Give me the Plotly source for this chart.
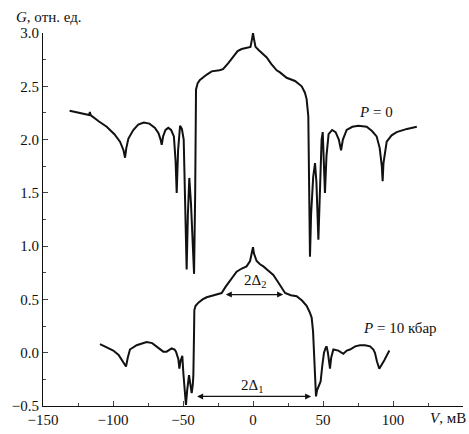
import plotly.graph_objects as go

# P = 0 curve
V0 = [-131, -124, -117, -116.5, -116, -110, -104.5, -99, -95, -92.5, -91.4, -90.5, -89, -85.5, -82, -78, -74,
      -70, -67.5, -66, -65.2, -64.2, -62.5, -60.5, -58.5, -56.5, -55.3, -54.5, -53.5, -52.1, -50.8, -49.5,
      -48.5, -47.4, -46.5, -45.5, -44.3, -43, -42.1, -41.3, -41, -40.7, -39.5, -37.9, -33, -29.5, -24, -21.4,
      -17.5, -14.3, -11, -8.1, -4, -1.8, -0.6, 0, 0.6, 1.8, 4, 7, 9.8, 13, 16.9, 19.3, 24, 30, 34.8, 37.1,
      38.3, 39.5, 40.0, 40.4, 40.7, 41.5, 43, 44.3, 45.3, 46.7, 47.8, 49.0, 49.8, 50.6, 51.4, 52.5, 54, 56.5,
      59, 61.3, 62.9, 64.2, 66.9, 71, 75.2, 81.2, 85, 88.3, 90.5, 92, 92.6, 93.2, 94.5, 95.5, 99, 102.6, 110, 117]
G0 = [2.27, 2.25, 2.23, 2.26, 2.23, 2.17, 2.12, 2.05, 1.98, 1.90, 1.83, 1.92, 2.01, 2.09, 2.14, 2.16, 2.15,
      2.11, 2.06, 2.00, 1.95, 2.03, 2.09, 2.11, 2.09, 2.03, 1.80, 1.50, 1.90, 2.13, 2.10, 2.00,
      1.50, 0.78, 1.30, 1.64, 1.40, 0.90, 0.74, 1.50, 2.20, 2.47, 2.53, 2.56, 2.61, 2.64, 2.65, 2.66,
      2.72, 2.78, 2.83, 2.85, 2.86, 2.87, 2.95, 3.00, 2.95, 2.87, 2.84, 2.80, 2.77, 2.71, 2.65, 2.63, 2.58, 2.55, 2.50, 2.44,
      2.38, 2.22, 1.80, 1.20, 0.90, 1.30, 1.65, 1.78, 1.60, 1.06, 1.60, 2.00, 2.07, 1.85, 1.50, 1.85, 2.05, 2.09,
      2.07, 2.00, 1.90, 2.00, 2.09, 2.12, 2.13, 2.12, 2.08, 2.03, 1.92, 1.75, 1.61, 1.78, 1.92, 1.98, 2.04, 2.07, 2.10, 2.12]

# P = 10 kbar curve
V1 = [-109.3, -104, -99.8, -96, -93.8, -92, -90.7, -89.5, -87.9, -83.1, -79, -76, -72, -68.8, -66, -64.1, -61.7,
      -59.5, -58.1, -56, -55, -53.3, -52.6, -51.8, -51, -50.5, -49.7, -48.5, -47.9, -47, -45.7, -44.7, -43.8,
      -43, -42.6, -42.1, -41.9, -41, -39, -36, -33.1, -28, -22.4, -19.5, -16.4, -13.5, -11.7, -8, -4.6, -2.1,
      -0.7, 0, 0.7, 2.6, 5, 7.4, 11, 14.5, 17.5, 20.5, 22.9, 27, 31.2, 35, 38.3, 40.5, 41.9, 42.9, 43.6, 44.2,
      45, 45.8, 46.7, 48.3, 49.5, 50.7, 52, 52.6, 53.5, 54.3, 55, 55.8, 57.4, 61, 64.5, 67, 69.3, 73, 76.4, 80,
      83.6, 86, 87.1, 88.5, 90.2, 93.8, 97.4]
G1 = [0.08, 0.05, 0.02, -0.02, -0.07, -0.11, -0.13, -0.05, 0.03, 0.07, 0.09, 0.10, 0.09, 0.06, 0.03, 0.01, 0.01,
      0.03, 0.04, 0.03, 0.01, -0.06, -0.15, -0.08, -0.05, -0.03, -0.20, -0.45, -0.49, -0.35, -0.21, -0.30, -0.38,
      -0.30, -0.21, 0.20, 0.40, 0.44, 0.47, 0.50, 0.52, 0.54, 0.56, 0.62, 0.68, 0.73, 0.76, 0.79, 0.81, 0.86,
      0.93, 0.99, 0.93, 0.86, 0.83, 0.81, 0.77, 0.73, 0.67, 0.61, 0.56, 0.54, 0.53, 0.49, 0.44, 0.38, 0.33, 0.20, 0.00, -0.27,
      -0.41, -0.35, -0.32, -0.27, -0.12, 0.00, 0.05, 0.06, 0.00, -0.10, -0.15, -0.05, 0.03, 0.02, -0.01, 0.02, 0.03, 0.06, 0.07, 0.07,
      0.06, 0.03, 0.00, -0.08, -0.15, -0.07, 0.02]

x_ticks = [-150, -100, -50, 0, 50, 100]
y_ticks = [-0.5, 0.0, 0.5, 1.0, 1.5, 2.0, 2.5, 3.0]

# gap arrows: (left V, right V, G)
delta2 = (-20.5, 21.5, 0.546)
delta1 = (-41.0, 41.5, -0.41)

FONT = "Liberation Serif"
ink = "#111111"

fig = go.Figure()
fig.add_trace(go.Scatter(x=V0, y=G0, mode="lines", line=dict(color=ink, width=2), showlegend=False))
fig.add_trace(go.Scatter(x=V1, y=G1, mode="lines", line=dict(color=ink, width=2), showlegend=False))

ann = []
for (l, r, g) in (delta2, delta1):
    ann.append(dict(x=r, y=g, ax=l, ay=g, xref="x", yref="y", axref="x", ayref="y", text="",
                    showarrow=True, arrowhead=2, arrowside="end+start", arrowsize=1, arrowwidth=1.2,
                    arrowcolor=ink))
ann += [
    dict(x=1.5, y=0.67, xref="x", yref="y", text="2Δ<sub>2</sub>", showarrow=False,
         font=dict(family=FONT, size=15, color=ink)),
    dict(x=-1, y=-0.31, xref="x", yref="y", text="2Δ<sub>1</sub>", showarrow=False,
         font=dict(family=FONT, size=15, color=ink)),
    dict(x=88, y=2.26, xref="x", yref="y", text="<i>P</i> = 0", showarrow=False,
         font=dict(family=FONT, size=15, color=ink)),
    dict(x=105, y=0.23, xref="x", yref="y", text="<i>P</i> = 10 кбар", showarrow=False,
         font=dict(family=FONT, size=15, color=ink)),
    dict(x=-0.069, y=1.042, xref="paper", yref="paper", xanchor="left", yanchor="middle",
         text="<i>G</i>, отн. ед.", showarrow=False, font=dict(family=FONT, size=15, color=ink)),
    dict(x=1.012, y=-0.032, xref="paper", yref="paper", xanchor="right", yanchor="middle",
         text="<i>V</i>, мВ", showarrow=False, font=dict(family=FONT, size=15, color=ink)),
]

fig.update_layout(
    width=469, height=434,
    margin=dict(l=43, r=6, t=33, b=23),
    paper_bgcolor="white", plot_bgcolor="white",
    font=dict(family=FONT, size=15, color=ink),
    annotations=ann,
    xaxis=dict(range=[-150, 150], tickvals=x_ticks, ticks="inside", ticklen=5, tickwidth=1,
               showline=True, linecolor=ink, linewidth=1.2, showgrid=False, zeroline=False,
               minor=dict(ticks="inside", dtick=25, ticklen=3, tickwidth=1, showgrid=False),
               tickfont=dict(family=FONT, size=15, color=ink)),
    yaxis=dict(range=[-0.5, 3.0], tickvals=y_ticks, tickformat=".1f", ticks="inside", ticklen=5, tickwidth=1,
               showline=True, linecolor=ink, linewidth=1.2, showgrid=False, zeroline=False,
               minor=dict(ticks="inside", dtick=0.25, ticklen=3, tickwidth=1, showgrid=False),
               tickfont=dict(family=FONT, size=15, color=ink)),
)

fig.write_html("out.html")
